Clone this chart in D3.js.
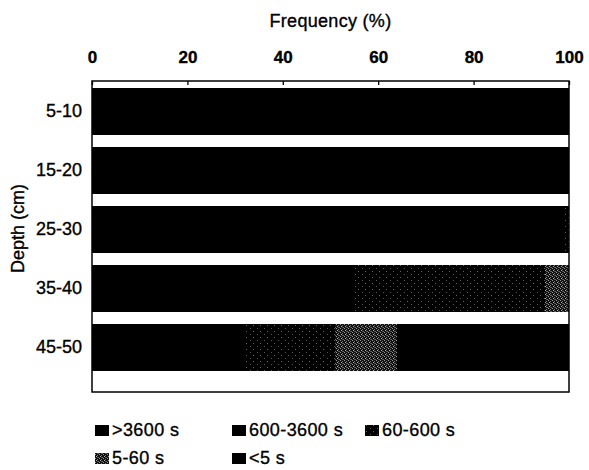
<!DOCTYPE html>
<html>
<head>
<meta charset="utf-8">
<script src="https://cdn.jsdelivr.net/npm/d3@7"></script>
<style>
  body { margin: 0; background: #fff; }
  svg text { font-family: "Liberation Sans", Arial, sans-serif; fill: #000; stroke: #000; stroke-width: 0.35px; }
</style>
</head>
<body>
<div id="chart"></div>
<script>
const depths = ["5-10", "15-20", "25-30", "35-40", "45-50"];
const classes = [">3600 s", "600-3600 s", "60-600 s", "5-60 s", "<5 s"];
const xTicks = [0, 20, 40, 60, 80, 100];

// percent of each class per depth (row order = depths)
const over3600 = [85, 80, 75, 40, 20];
const from600 = [15, 20, 24, 15, 12];
const from60 = [0, 0, 1, 40, 19];
const from5 = [0, 0, 0, 5, 13];
const under5 = [0, 0, 0, 0, 36];

const width = 589, height = 470;
const plot = { left: 92, right: 569, top: 81, bottom: 392 };

const svg = d3.select("#chart").append("svg")
    .attr("width", width)
    .attr("height", height);

// fill patterns, looking like the scanned grey screens
const defs = svg.append("defs");

const dots = defs.append("pattern")
    .attr("id", "pat-dots")
    .attr("width", 7).attr("height", 6)
    .attr("patternUnits", "userSpaceOnUse");
dots.append("rect").attr("width", 7).attr("height", 6).attr("fill", "#000");
dots.append("rect").attr("x", 1).attr("y", 1).attr("width", 1).attr("height", 1).attr("fill", "#666");
dots.append("rect").attr("x", 5).attr("y", 4).attr("width", 1).attr("height", 1).attr("fill", "#555");

const checks = defs.append("pattern")
    .attr("id", "pat-checks")
    .attr("width", 4).attr("height", 4)
    .attr("patternUnits", "userSpaceOnUse");
checks.append("rect").attr("width", 4).attr("height", 4).attr("fill", "#111");
[[0, 0, "#999"], [2, 1, "#777"], [1, 2, "#aaa"], [3, 3, "#666"], [2, 3, "#555"]]
    .forEach(([x, y, c]) => checks.append("rect")
        .attr("x", x).attr("y", y).attr("width", 1).attr("height", 1).attr("fill", c));

const fills = ["#000", "#000", "url(#pat-dots)", "url(#pat-checks)", "#000"];

const x = d3.scaleLinear().domain([0, 100]).range([plot.left, plot.right]);
const y = d3.scaleBand().domain(depths).range([plot.top + 1, plot.top + 296]).paddingInner(0.22).paddingOuter(0.11);

const rows = depths.map((d, i) => ({
    depth: d,
    ">3600 s": over3600[i],
    "600-3600 s": from600[i],
    "60-600 s": from60[i],
    "5-60 s": from5[i],
    "<5 s": under5[i]
}));

const series = d3.stack().keys(classes)(rows);

svg.append("g")
    .attr("shape-rendering", "crispEdges")
    .selectAll("g")
    .data(series)
    .join("g")
    .attr("fill", (d, i) => fills[i])
    .selectAll("rect")
    .data(d => d)
    .join("rect")
    .attr("x", d => Math.round(x(d[0])))
    .attr("width", d => Math.max(0, Math.round(x(Math.min(d[1], 100))) - Math.round(x(d[0]))))
    .attr("y", d => y(d.data.depth))
    .attr("height", y.bandwidth());

// frame
svg.append("rect")
    .attr("x", plot.left).attr("y", plot.top)
    .attr("width", plot.right - plot.left).attr("height", plot.bottom - plot.top)
    .attr("fill", "none").attr("stroke", "#000").attr("stroke-width", 1.5);

// top axis, ticks pointing inward
const xAxis = svg.append("g")
    .attr("transform", `translate(0,${plot.top})`)
    .call(d3.axisBottom(x).tickValues(xTicks).tickSize(4).tickFormat(d3.format("d")));
xAxis.select(".domain").remove();
xAxis.selectAll("line").attr("stroke-width", 1.3);
xAxis.selectAll("text")
    .attr("y", -30)
    .attr("dy", "0.71em")
    .attr("font-family", null)
    .attr("font-size", null)
    .style("font-size", "17px")
    .style("font-weight", "bold");

svg.append("text")
    .attr("x", (plot.left + plot.right) / 2)
    .attr("y", 27)
    .attr("text-anchor", "middle")
    .style("font-size", "18px")
    .style("letter-spacing", "0.3px")
    .text("Frequency (%)");

// left category labels
const yAxis = svg.append("g")
    .attr("transform", `translate(${plot.left},0)`)
    .call(d3.axisLeft(y).tickSize(0).tickPadding(10));
yAxis.select(".domain").remove();
yAxis.selectAll("text")
    .attr("font-family", null)
    .style("font-size", "18px");

svg.append("text")
    .attr("transform", `translate(24,${(plot.top + plot.bottom) / 2 - 8}) rotate(-90)`)
    .attr("text-anchor", "middle")
    .style("font-size", "18px")
    .text("Depth (cm)");

// legend
const legendPos = [[95, 430], [232, 430], [365, 430], [95, 458], [232, 458]];
const legend = svg.append("g")
    .selectAll("g")
    .data(classes)
    .join("g")
    .attr("transform", (d, i) => `translate(${legendPos[i][0]},${legendPos[i][1]})`);
legend.append("rect")
    .attr("y", -5).attr("width", 14).attr("height", 11)
    .attr("fill", (d, i) => fills[i]);
legend.append("text")
    .attr("x", 17).attr("dy", "0.36em")
    .style("font-size", "18px")
    .style("letter-spacing", "0.4px")
    .text(d => d);
</script>
</body>
</html>
